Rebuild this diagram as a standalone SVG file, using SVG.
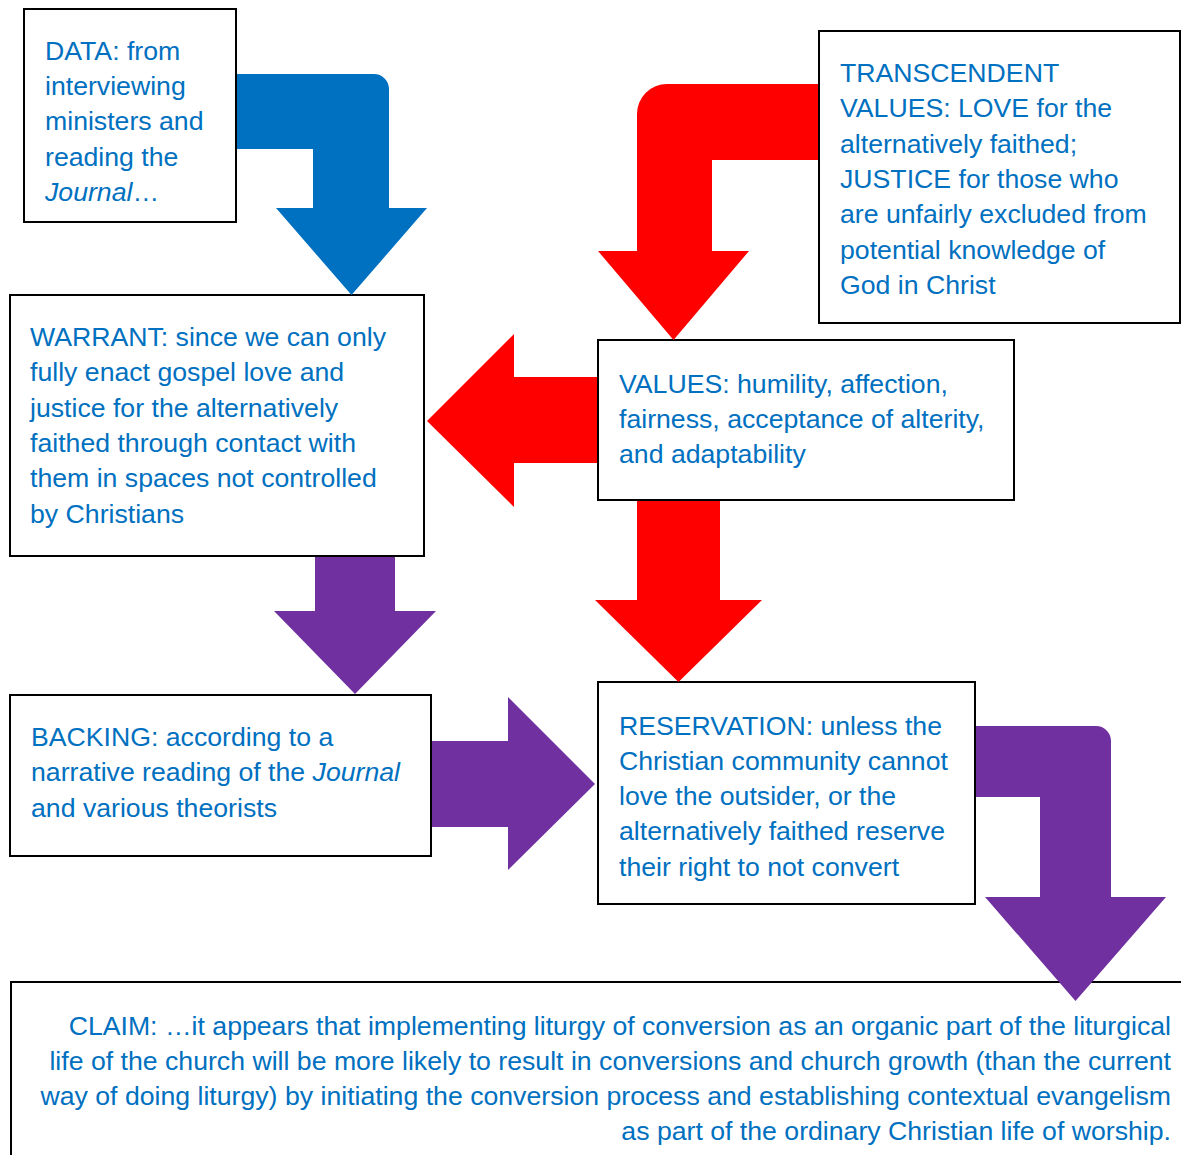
<svg xmlns="http://www.w3.org/2000/svg" width="1181" height="1155" viewBox="0 0 1181 1155">
  <style>
    .box { fill: #ffffff; stroke: #000000; stroke-width: 2; }
    .lbl { font-family: "Liberation Sans", Arial, sans-serif; font-size: 26.67px; fill: #0070C0; }
    .end { text-anchor: end; }
    .it { font-style: italic; }
    .blue { fill: #0070C0; }
    .red { fill: #FF0000; }
    .purple { fill: #7030A0; }
  </style>
  <rect width="1181" height="1155" fill="#ffffff"/>

  <!-- Nodes -->
  <g id="data">
    <rect class="box" x="24" y="9" width="212" height="213"/>
    <text class="lbl" x="45">
      <tspan x="45" y="60">DATA: from</tspan>
      <tspan x="45" y="95.2">interviewing</tspan>
      <tspan x="45" y="130.4">ministers and</tspan>
      <tspan x="45" y="165.6">reading the</tspan>
      <tspan x="45" y="200.8"><tspan class="it">Journal</tspan>…</tspan>
    </text>
  </g>

  <g id="transcendent-values">
    <rect class="box" x="819" y="31" width="361" height="292"/>
    <text class="lbl">
      <tspan x="840" y="82">TRANSCENDENT</tspan>
      <tspan x="840" y="117.3">VALUES: LOVE for the</tspan>
      <tspan x="840" y="152.6">alternatively faithed;</tspan>
      <tspan x="840" y="187.9">JUSTICE for those who</tspan>
      <tspan x="840" y="223.2">are unfairly excluded from</tspan>
      <tspan x="840" y="258.5">potential knowledge of</tspan>
      <tspan x="840" y="293.8">God in Christ</tspan>
    </text>
  </g>

  <g id="warrant">
    <rect class="box" x="10" y="295" width="414" height="261"/>
    <text class="lbl">
      <tspan x="30" y="346">WARRANT: since we can only</tspan>
      <tspan x="30" y="381.3">fully enact gospel love and</tspan>
      <tspan x="30" y="416.6">justice for the alternatively</tspan>
      <tspan x="30" y="451.9">faithed through contact with</tspan>
      <tspan x="30" y="487.2">them in spaces not controlled</tspan>
      <tspan x="30" y="522.5">by Christians</tspan>
    </text>
  </g>

  <g id="values">
    <rect class="box" x="598" y="340" width="416" height="160"/>
    <text class="lbl">
      <tspan x="619" y="392.5">VALUES: humility, affection,</tspan>
      <tspan x="619" y="427.8">fairness, acceptance of alterity,</tspan>
      <tspan x="619" y="463.1">and adaptability</tspan>
    </text>
  </g>

  <g id="backing">
    <rect class="box" x="10" y="695" width="421" height="161"/>
    <text class="lbl">
      <tspan x="31" y="746">BACKING: according to a</tspan>
      <tspan x="31" y="781.3">narrative reading of the <tspan class="it">Journal</tspan></tspan>
      <tspan x="31" y="816.6">and various theorists</tspan>
    </text>
  </g>

  <g id="reservation">
    <rect class="box" x="598" y="682" width="377" height="222"/>
    <text class="lbl">
      <tspan x="619" y="734.5">RESERVATION: unless the</tspan>
      <tspan x="619" y="769.8">Christian community cannot</tspan>
      <tspan x="619" y="805.1">love the outsider, or the</tspan>
      <tspan x="619" y="840.4">alternatively faithed reserve</tspan>
      <tspan x="619" y="875.7">their right to not convert</tspan>
    </text>
  </g>

  <g id="claim">
    <rect class="box" x="11" y="982" width="1190" height="200"/>
    <text class="lbl end" x="1171" y="1034.5">CLAIM: …it appears that implementing liturgy of conversion as an organic part of the liturgical</text>
    <text class="lbl end" x="1171" y="1069.7">life of the church will be more likely to result in conversions and church growth (than the current</text>
    <text class="lbl end" x="1171" y="1104.9">way of doing liturgy) by initiating the conversion process and establishing contextual evangelism</text>
    <text class="lbl end" x="1171" y="1140.1">as part of the ordinary Christian life of worship.</text>
  </g>

  <!-- Connectors: block arrows -->
  <g id="connectors">
    <!-- data -> warrant (bent, blue) -->
    <path class="blue" d="M237,74 H374 A15,15 0 0 1 389,89 V208 H427 L351.5,295 L276,208 H313 V149 H237 Z"/>
    <!-- transcendent values -> values (bent, red) -->
    <path class="red" d="M818,84 H667 A30,30 0 0 0 637,114 V251 H598 L673.5,340 L749,251 H712 V160 H818 Z"/>
    <!-- values -> warrant (red, left) -->
    <path class="red" d="M597,377 H514 V334 L427,421 L514,507 V463 H597 Z"/>
    <!-- values -> reservation (red, down) -->
    <path class="red" d="M637,501 V600 H595 L678.5,682 L762,600 H720 V501 Z"/>
    <!-- warrant -> backing (purple, down) -->
    <path class="purple" d="M315,557 V611 H274 L355,694 L436,611 H395 V557 Z"/>
    <!-- backing -> reservation (purple, right) -->
    <path class="purple" d="M432,741 H508 V697 L595,784 L508,870 V827 H432 Z"/>
    <!-- reservation -> claim (bent, purple) -->
    <path class="purple" d="M976,726 H1096 A15,15 0 0 1 1111,741 V897 H1166 L1075.5,1001 L985,897 H1040 V797 H976 Z"/>
  </g>
</svg>
